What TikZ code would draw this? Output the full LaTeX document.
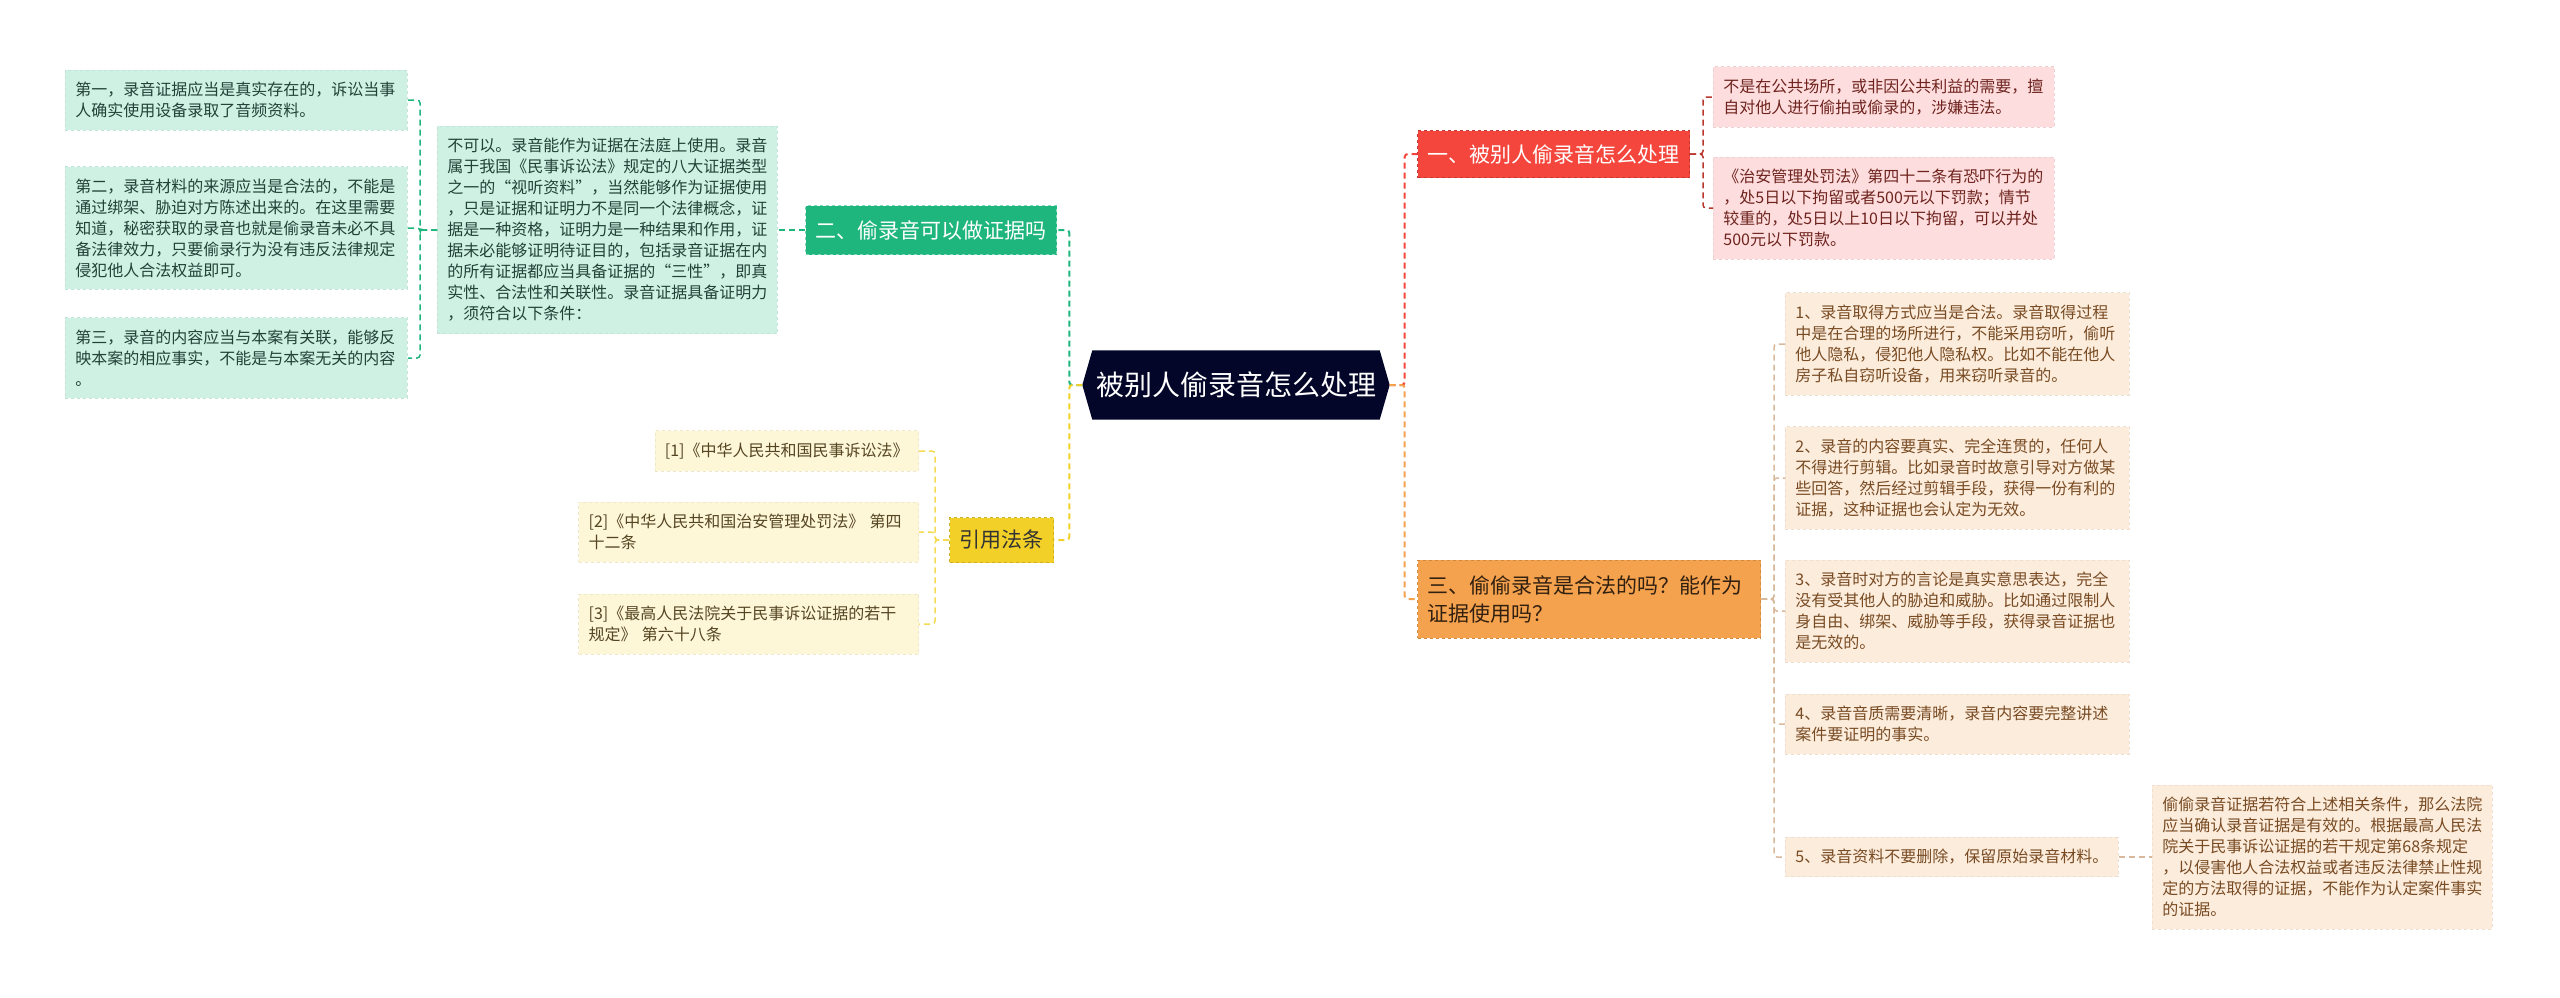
\documentclass[tikz,border=0pt]{standalone}
\usepackage{fontspec}
\setmainfont{Noto Sans CJK SC}
\usepackage{tikz}
\usetikzlibrary{backgrounds}
\definecolor{rootc}{RGB}{3,6,40}
\definecolor{redc}{RGB}{244,70,60}
\definecolor{redl}{RGB}{253,221,221}
\definecolor{redt}{RGB}{110,35,30}
\definecolor{greenc}{RGB}{30,182,124}
\definecolor{greenl}{RGB}{206,241,228}
\definecolor{greent}{RGB}{35,65,55}
\definecolor{yellowc}{RGB}{242,208,40}
\definecolor{yellowl}{RGB}{253,246,215}
\definecolor{yellowt}{RGB}{85,70,35}
\definecolor{orangec}{RGB}{245,162,78}
\definecolor{orangel}{RGB}{252,236,220}
\definecolor{oranget}{RGB}{120,75,35}

\begin{document}
\begin{tikzpicture}[x=1pt, y=-1pt,
    link/.style={dash pattern=on 6pt off 4pt, line width=2pt, rounded corners=3pt},
    sublink/.style={link, line width=1.5pt},
    topic/.style={dashed, line width=1pt, inner xsep=10pt, inner ysep=0pt, anchor=west,
      align=left, font=\fontsize{21}{28}\selectfont},
    leaf/.style={dashed, line width=0.8pt, inner xsep=10pt, inner ysep=12pt, anchor=west,
      align=left, font=\fontsize{16}{21}\selectfont},
    redleaf/.style={leaf, fill=redl, draw=redl!94!black, text=redt},
    greenleaf/.style={leaf, fill=greenl, draw=greenl!94!black, text=greent},
    yellowleaf/.style={leaf, fill=yellowl, draw=yellowl!94!black, text=yellowt, anchor=east},
    orangeleaf/.style={leaf, fill=orangel, draw=orangel!94!black, text=oranget}]
  \useasboundingbox (0,0) rectangle (2560,997);

  \node[font=\fontsize{28}{32}\selectfont, text=white, minimum width=307pt, minimum height=69pt,
    inner sep=0pt] (root) at (1236,385) {被别人偷录音怎么处理};
  \begin{scope}[on background layer]
    \fill[rootc] (root.west) -- ([xshift=10pt]root.north west) -- ([xshift=-10pt]root.north east)
      -- (root.east) -- ([xshift=-10pt]root.south east) -- ([xshift=10pt]root.south west) -- cycle;
  \end{scope}

  \node[topic, fill=redc, draw=redc!80!black, text=white, minimum width=271pt, minimum height=47pt]
    (one) at (1417,154) {一、被别人偷录音怎么处理};
  \node[topic, fill=greenc, draw=greenc!55!white, text=white, minimum width=249pt, minimum height=49pt]
    (two) at (805,230) {二、偷录音可以做证据吗};
  \node[topic, fill=yellowc, draw=yellowc!85!black, text=black!80, minimum width=104pt, minimum height=45pt]
    (law) at (949,540) {引用法条};
  \node[topic, fill=orangec, draw=orangec!85!black, text=black!80!orangec, text width=323pt, minimum height=78pt]
    (three) at (1417,599) {三、偷偷录音是合法的吗？能作为\\证据使用吗？};

  \node[redleaf, text width=321pt] (r1) at (1713,97)
    {不是在公共场所，或非因公共利益的需要，擅\\自对他人进行偷拍或偷录的，涉嫌违法。};
  \node[redleaf, text width=321pt] (r2) at (1713,208)
    {《治安管理处罚法》第四十二条有恐吓行为的\\，处5日以下拘留或者500元以下罚款；情节\\较重的，处5日以上10日以下拘留，可以并处\\500元以下罚款。};

  \node[greenleaf, text width=320pt] (txt) at (437,230)
    {不可以。录音能作为证据在法庭上使用。录音\\属于我国《民事诉讼法》规定的八大证据类型\\之一的“视听资料”，当然能够作为证据使用\\，只是证据和证明力不是同一个法律概念，证\\据是一种资格，证明力是一种结果和作用，证\\据未必能够证明待证目的，包括录音证据在内\\的所有证据都应当具备证据的“三性”，即真\\实性、合法性和关联性。录音证据具备证明力\\，须符合以下条件：};
  \node[greenleaf, text width=322pt] (gc1) at (65,100)
    {第一，录音证据应当是真实存在的，诉讼当事\\人确实使用设备录取了音频资料。};
  \node[greenleaf, text width=322pt] (gc2) at (65,228)
    {第二，录音材料的来源应当是合法的，不能是\\通过绑架、胁迫对方陈述出来的。在这里需要\\知道，秘密获取的录音也就是偷录音未必不具\\备法律效力，只要偷录行为没有违反法律规定\\侵犯他人合法权益即可。};
  \node[greenleaf, text width=322pt] (gc3) at (65,358)
    {第三，录音的内容应当与本案有关联，能够反\\映本案的相应事实，不能是与本案无关的内容\\。};

  \node[yellowleaf] (y1) at (919,451) {[1]《中华人民共和国民事诉讼法》};
  \node[yellowleaf, text width=320pt] (y2) at (919,532)
    {[2]《中华人民共和国治安管理处罚法》 第四\\十二条};
  \node[yellowleaf, text width=320pt] (y3) at (919,624)
    {[3]《最高人民法院关于民事诉讼证据的若干\\规定》 第六十八条};

  \node[orangeleaf, text width=324pt] (o1) at (1785,344)
    {1、录音取得方式应当是合法。录音取得过程\\中是在合理的场所进行，不能采用窃听，偷听\\他人隐私，侵犯他人隐私权。比如不能在他人\\房子私自窃听设备，用来窃听录音的。};
  \node[orangeleaf, text width=324pt] (o2) at (1785,478)
    {2、录音的内容要真实、完全连贯的，任何人\\不得进行剪辑。比如录音时故意引导对方做某\\些回答，然后经过剪辑手段，获得一份有利的\\证据，这种证据也会认定为无效。};
  \node[orangeleaf, text width=324pt] (o3) at (1785,611)
    {3、录音时对方的言论是真实意思表达，完全\\没有受其他人的胁迫和威胁。比如通过限制人\\身自由、绑架、威胁等手段，获得录音证据也\\是无效的。};
  \node[orangeleaf, text width=324pt] (o4) at (1785,724)
    {4、录音音质需要清晰，录音内容要完整讲述\\案件要证明的事实。};
  \node[orangeleaf] (o5) at (1785,857) {5、录音资料不要删除，保留原始录音材料。};
  \node[orangeleaf, text width=320pt] (o5x) at (2152,857)
    {偷偷录音证据若符合上述相关条件，那么法院\\应当确认录音证据是有效的。根据最高人民法\\院关于民事诉讼证据的若干规定第68条规定\\，以侵害他人合法权益或者违反法律禁止性规\\定的方法取得的证据，不能作为认定案件事实\\的证据。};

  \draw[link, greenc] (root.west) -- ++(-13,0) |- (two.east);
  \draw[link, yellowc] (root.west) -- ++(-13,0) |- (law.east);
  \draw[link, redc] (root.east) -- ++(15,0) |- (one.west);
  \draw[link, orangec] (root.east) -- ++(15,0) |- (three.west);
  \draw[link, greenc] (two.west) -- (txt.east);
  \foreach \n in {gc1,gc2,gc3}
    \draw[sublink, greenc] (txt.west) -- ++(-17,0) |- (\n.east);
  \foreach \n in {y1,y2,y3}
    \draw[sublink, yellowc!80] (law.west) -- ++(-14,0) |- (\n.east);
  \foreach \n in {r1,r2}
    \draw[sublink, redc!55!redt] (one.east) -- ++(13,0) |- (\n.west);
  \foreach \n in {o1,o2,o3,o4,o5}
    \draw[sublink, orangec!45!oranget!50] (three.east) -- ++(13,0) |- (\n.west);
  \draw[sublink, orangec!45!oranget!50] (o5.east) -- (o5x.west);
\end{tikzpicture}
\end{document}
